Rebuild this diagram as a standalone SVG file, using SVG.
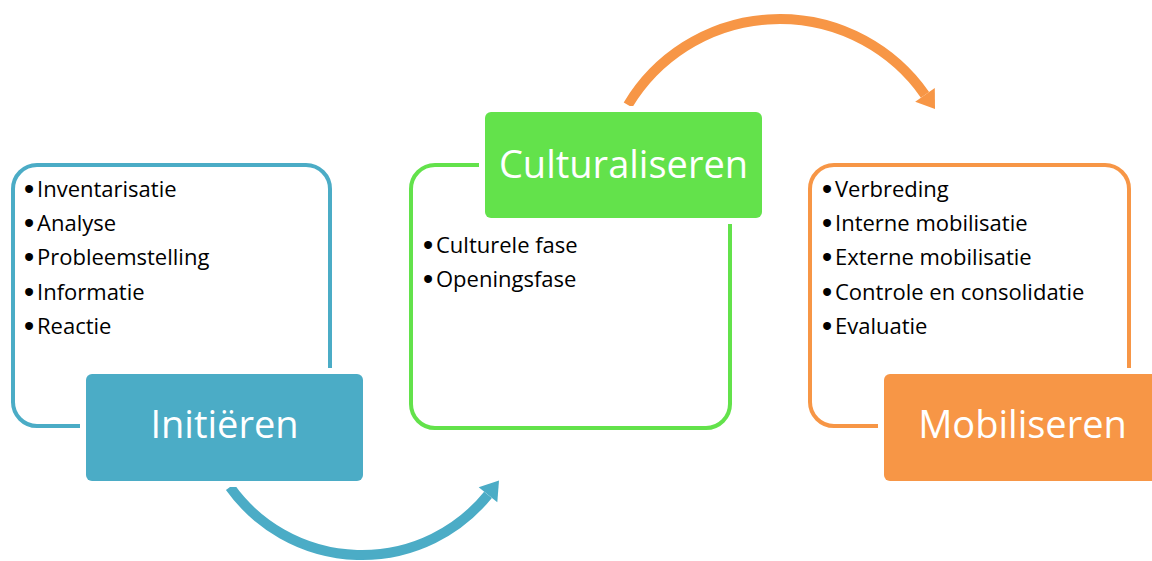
<svg xmlns="http://www.w3.org/2000/svg" width="1152" height="561" viewBox="0 0 1152 561">
<defs>
<style>
.outline{fill:none;stroke-width:4}
.pad{fill:#fff}
.bul{font-family:"Open Sans","Noto Sans","Liberation Sans",sans-serif;font-size:22px;fill:#000}
.dot{font-family:"Liberation Sans",sans-serif;font-size:29px}
.title{font-family:"Open Sans","Noto Sans","Liberation Sans",sans-serif;font-size:38px;fill:#fff;text-anchor:middle}
.arc{fill:none;stroke-width:10}
</style>
</defs>
<rect width="1152" height="561" fill="#fff"/>
<g id="connectors">
<path class="arc" stroke="#4BACC6" d="M230,487 A162,162 0 0 0 488,494.8"/>
<polygon fill="#4BACC6" points="497.3,502.3 478.7,487.3 499,480.5"/>
<path class="arc" stroke="#F79646" d="M628,105 A177,177 0 0 1 925,94.8"/>
<polygon fill="#F79646" points="934.8,87.9 915.2,101.7 935,109"/>
</g>
<g id="initieren">
<rect class="outline" stroke="#4BACC6" x="13" y="165" width="317" height="261" rx="24"/>
<rect class="pad" x="80" y="368" width="289" height="119"/>
<rect fill="#4BACC6" x="86" y="374" width="277" height="107" rx="6"/>
<text class="title" x="224.5" y="438">Initiëren</text>
<text class="bul"><tspan class="dot" x="24" y="199">•</tspan><tspan x="37" y="197">Inventarisatie</tspan><tspan class="dot" x="24" y="233">•</tspan><tspan x="37" y="231">Analyse</tspan><tspan class="dot" x="24" y="267">•</tspan><tspan x="37" y="265">Probleemstelling</tspan><tspan class="dot" x="24" y="302">•</tspan><tspan x="37" y="300">Informatie</tspan><tspan class="dot" x="24" y="336">•</tspan><tspan x="37" y="334">Reactie</tspan></text>
</g>
<g id="culturaliseren">
<rect class="outline" stroke="#63E24B" x="411" y="165" width="319" height="263" rx="24"/>
<rect class="pad" x="479" y="106" width="289" height="118"/>
<rect fill="#63E24B" x="485" y="112" width="277" height="106" rx="6"/>
<text class="title" x="623.5" y="178">Culturaliseren</text>
<text class="bul"><tspan class="dot" x="423" y="255">•</tspan><tspan x="436" y="253">Culturele fase</tspan><tspan class="dot" x="423" y="289">•</tspan><tspan x="436" y="287">Openingsfase</tspan></text>
</g>
<g id="mobiliseren">
<rect class="outline" stroke="#F79646" x="810" y="165" width="319" height="261" rx="24"/>
<rect class="pad" x="878" y="368" width="289" height="119"/>
<rect fill="#F79646" x="884" y="374" width="277" height="107" rx="6"/>
<text class="title" x="1022.5" y="438">Mobiliseren</text>
<text class="bul"><tspan class="dot" x="822" y="199">•</tspan><tspan x="835" y="197">Verbreding</tspan><tspan class="dot" x="822" y="233">•</tspan><tspan x="835" y="231">Interne mobilisatie</tspan><tspan class="dot" x="822" y="267">•</tspan><tspan x="835" y="265">Externe mobilisatie</tspan><tspan class="dot" x="822" y="302">•</tspan><tspan x="835" y="300">Controle en consolidatie</tspan><tspan class="dot" x="822" y="336">•</tspan><tspan x="835" y="334">Evaluatie</tspan></text>
</g>
</svg>
